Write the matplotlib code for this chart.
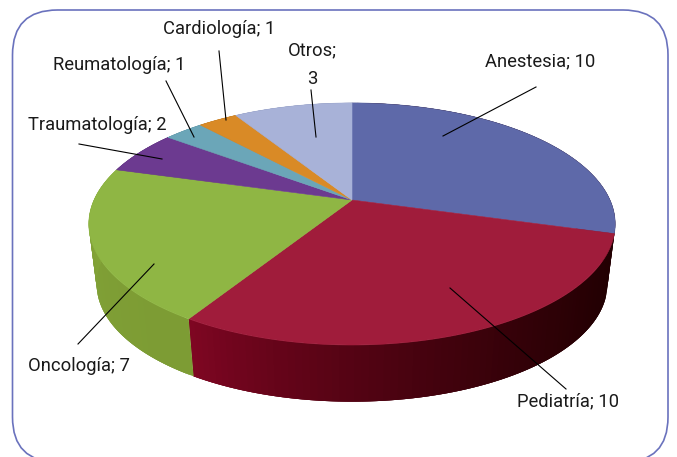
import numpy as np
import matplotlib
matplotlib.use('Agg')
import matplotlib.pyplot as plt
from matplotlib.patches import FancyBboxPatch, Polygon
from matplotlib.colors import to_rgb

categories = ['Anestesia', 'Pediatría', 'Oncología', 'Traumatología', 'Reumatología', 'Cardiología', 'Otros']
values = [10, 10, 7, 2, 1, 1, 3]
top_colors = ['#5e69a9', '#a01c3b', '#8fb644', '#6c3a90', '#6ba6b8', '#d98a26', '#a8b2d8']
# wall colour at the start and end of each slice (clockwise)
wall_start = ['#2a0005', '#220002', '#7d9c34', '#4a2a68', '#4a7a88', '#a06418', '#7a84a8']
wall_end = ['#2a0005', '#7e0622', '#86a83a', '#4a2a68', '#4a7a88', '#a06418', '#7a84a8']

# layout of the labels, leaders in pixels from top left
label_pos = [(540, 61), (568, 401), (79, 366), (97, 125), (119, 65), (219, 29), (312, 65)]
label_text = ['Anestesia; 10', 'Pediatría; 10', 'Oncología; 7', 'Traumatología; 2',
              'Reumatología; 1', 'Cardiología; 1', 'Otros;\n3']
leader_start = [(536, 87), (566, 389), (78, 344), (79, 144), (166, 81), (219, 51), (311, 90)]
leader_end = [(443, 136), (450, 288), (154, 264), (162, 159), (194, 137), (226, 120), (316, 137)]

cx, cy = 352, 200  # where the slices meet
s, a, b = 258.0, 116.3, 0.198  # width, height and perspective of the tilted disc
depth = 61
shrink = 0.97


def project(theta, scale=1.0, dy=0.0):  # clockwise degrees from 12 o'clock -> pixels
    t = np.radians(theta)
    u = np.sin(t)
    v = -np.cos(t)
    d = 1 - b * v
    return cx + scale * s * u / d, cy + scale * a * v / d + dy


plt.rcParams['font.family'] = ['Roboto', 'DejaVu Sans']
fig = plt.figure(figsize=(6.77, 4.57), dpi=100)
ax = fig.add_axes([0, 0, 1, 1])
ax.set_xlim(0, 677)
ax.set_ylim(457, 0)
ax.axis('off')

# frame, bottom goes off the page
r = 45
box = FancyBboxPatch((12.5 + r, 10 + r), 655.5 - 2 * r, 452 - 2 * r,
                     boxstyle='round,pad=%d,rounding_size=%d' % (r, r),
                     fc='white', ec='#6a72bd', lw=1.2, zorder=1)
ax.add_patch(box)

angles = np.cumsum([0] + values) * 360.0 / sum(values)

# walls first, back ones are hidden by the top
for i in range(len(values)):
    th = np.linspace(angles[i], angles[i + 1], 80)
    c0 = np.array(to_rgb(wall_start[i]))
    c1 = np.array(to_rgb(wall_end[i]))
    for j in range(len(th) - 1):
        # each piece runs over the next one so no seams show
        x1, y1 = project(th[j:j + 4])
        x2, y2 = project(th[j:j + 4], shrink, depth)
        pts = np.column_stack([np.r_[x1, x2[::-1]], np.r_[y1, y2[::-1]]])
        f = j / (len(th) - 2.0)
        col = c0 + (c1 - c0) * f ** 1.7
        ax.add_patch(Polygon(pts, fc=col, ec='none', zorder=2))

# top of the pie
for i in range(len(values)):
    th = np.linspace(angles[i], angles[i + 1], 120)
    x, y = project(th)
    pts = np.column_stack([np.r_[cx, x], np.r_[cy, y]])
    ax.add_patch(Polygon(pts, fc=top_colors[i], ec=top_colors[i], lw=0.4, zorder=3))

for i in range(len(categories)):
    ax.plot([leader_start[i][0], leader_end[i][0]], [leader_start[i][1], leader_end[i][1]],
            color='black', lw=0.8, zorder=4)
    ax.text(label_pos[i][0], label_pos[i][1], label_text[i], ha='center', va='center',
            fontsize=13.2, color='#1a1a1a', linespacing=1.75, zorder=5)

fig.savefig('out.png', dpi=100)
